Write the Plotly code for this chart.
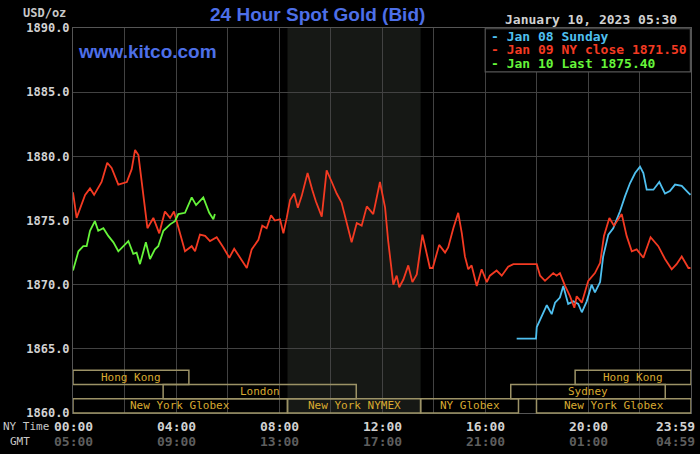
import plotly.graph_objects as go

# Jan 09 (full NY day), hours since NY midnight -> price
jan09_hours = [0.0, 0.14, 0.47, 0.66, 0.82, 1.11, 1.33, 1.50, 1.76, 2.09, 2.28, 2.41, 2.54, 2.73,
               2.89, 3.12, 3.35, 3.57, 3.77, 3.92, 4.09, 4.35, 4.61, 4.74, 4.93, 5.13, 5.32, 5.58,
               5.84, 6.07, 6.26, 6.49, 6.75, 6.94, 7.20, 7.35, 7.52, 7.69, 7.84, 8.04, 8.17, 8.30,
               8.43, 8.59, 8.73, 8.88, 9.11, 9.29, 9.43, 9.66, 9.85, 10.05, 10.24, 10.43, 10.63,
               10.82, 11.02, 11.21, 11.41, 11.66, 11.92, 12.12, 12.24, 12.44, 12.57, 12.67, 12.83,
               13.02, 13.18, 13.35, 13.57, 13.86, 13.97, 14.22, 14.45, 14.57, 14.77, 14.96, 15.10,
               15.22, 15.35, 15.48, 15.68, 15.87, 16.07, 16.19, 16.45, 16.65, 16.90, 17.10, 18.01,
               18.14, 18.33, 18.65, 18.78, 18.91, 19.11, 19.30, 19.47, 19.56, 19.76, 20.01, 20.27,
               20.47, 20.62, 20.83, 21.01, 21.31, 21.50, 21.70, 21.89, 22.15, 22.43, 22.73, 22.99,
               23.25, 23.44, 23.64, 23.90, 23.98]
jan09_price = [1877.2, 1875.2, 1877.0, 1877.5, 1877.0, 1878.0, 1879.5, 1879.1, 1877.8, 1878.0,
               1879.0, 1880.5, 1880.1, 1877.1, 1874.4, 1875.2, 1874.0, 1875.7, 1875.2, 1875.7,
               1874.4, 1872.6, 1873.0, 1872.6, 1873.9, 1873.8, 1873.4, 1873.7, 1872.9, 1872.1,
               1872.8, 1872.1, 1871.3, 1872.75, 1873.5, 1874.6, 1874.4, 1875.4, 1875.0, 1875.1,
               1874.0, 1875.2, 1876.6, 1877.1, 1876.0, 1876.9, 1878.7, 1877.4, 1876.5, 1875.3,
               1878.9, 1878.0, 1877.1, 1876.4, 1874.9, 1873.3, 1874.8, 1874.6, 1876.1, 1875.5,
               1878.0, 1876.0, 1873.4, 1870.0, 1870.7, 1869.8, 1870.4, 1871.5, 1870.2, 1870.8,
               1873.9, 1871.3, 1871.3, 1873.1, 1872.5, 1872.9, 1874.4, 1875.6, 1874.0, 1872.2,
               1871.2, 1871.5, 1869.9, 1871.2, 1870.2, 1870.7, 1871.1, 1870.7, 1871.4, 1871.6,
               1871.6, 1870.7, 1870.3, 1870.9, 1870.7, 1870.9, 1869.9, 1869.1, 1868.2, 1869.1,
               1868.6, 1870.3, 1870.9, 1871.7, 1873.8, 1875.2, 1874.6, 1875.5, 1873.8, 1872.6,
               1872.75, 1872.1, 1873.7, 1873.0, 1872.0, 1871.2, 1871.6, 1872.2, 1871.3, 1871.3]

# Jan 08 Sunday evening session
jan08_hours = [17.23, 17.98, 18.01, 18.26, 18.40, 18.59, 18.72, 18.91, 19.04, 19.23, 19.43, 19.62,
               19.76, 19.95, 20.14, 20.27, 20.47, 20.59, 20.79, 20.98, 21.24, 21.44, 21.63, 21.83,
               22.02, 22.15, 22.28, 22.54, 22.77, 22.99, 23.18, 23.38, 23.64, 23.90, 23.98]
jan08_price = [1865.8, 1865.8, 1866.7, 1867.85, 1868.4, 1867.7, 1868.6, 1869.0, 1869.9, 1868.5,
               1868.7, 1868.5, 1867.85, 1868.7, 1870.0, 1869.4, 1870.2, 1872.2, 1873.9, 1874.4,
               1875.7, 1876.9, 1877.9, 1878.7, 1879.2, 1878.7, 1877.4, 1877.4, 1878.0, 1877.1,
               1877.3, 1877.8, 1877.7, 1877.15, 1877.0]

# Jan 10 so far (until 05:30)
jan10_hours = [0.0, 0.08, 0.21, 0.40, 0.53, 0.66, 0.85, 0.98, 1.18, 1.37, 1.57, 1.76, 1.95, 2.15,
               2.34, 2.47, 2.60, 2.83, 2.99, 3.18, 3.31, 3.51, 3.77, 3.96, 4.09, 4.35, 4.61, 4.78,
               5.06, 5.29, 5.45, 5.51]
jan10_price = [1871.1, 1871.7, 1872.6, 1873.0, 1873.0, 1874.2, 1874.95, 1874.2, 1874.4, 1873.8,
               1873.3, 1872.6, 1873.0, 1873.4, 1872.4, 1872.5, 1871.6, 1873.3, 1872.0, 1872.75,
               1873.0, 1874.2, 1874.7, 1874.95, 1875.5, 1875.6, 1876.8, 1876.2, 1876.8, 1875.6,
               1875.1, 1875.5]

legend_labels = ["Jan 08 Sunday", "Jan 09 NY close 1871.50", "Jan 10 Last 1875.40"]

# trading sessions: name, row from bottom, start hour, end hour
session_names = ["Hong Kong", "London", "New York Globex", "New York NYMEX", "NY Globex",
                 "New York Globex", "Sydney", "Hong Kong"]
session_rows = [2, 1, 0, 0, 0, 0, 1, 2]
session_start = [0.0, 3.5, 0.0, 8.33, 13.5, 18.0, 17.0, 19.5]
session_end = [4.5, 11.0, 8.33, 13.5, 17.3, 24.0, 23.0, 24.0]
comex_start, comex_end = 8.33, 13.5

tick_hours = [0, 4, 8, 12, 16, 20, 24]
ny_ticks = ["00:00", "04:00", "08:00", "12:00", "16:00", "20:00", "23:59"]
gmt_ticks = ["05:00", "09:00", "13:00", "17:00", "21:00", "01:00", "04:59"]

BLUE = "#4fc0f0"
RED = "#f43a22"
GREEN = "#66f53a"
GOLD = "#d8aa30"
BOX = "#9c9266"
GRID = "#424242"
MONO = "DejaVu Sans Mono"

fig = go.Figure()
for hrs, px, col in [(jan08_hours, jan08_price, BLUE),
                     (jan09_hours, jan09_price, RED),
                     (jan10_hours, jan10_price, GREEN)]:
    fig.add_trace(go.Scatter(x=hrs, y=px, mode="lines", line=dict(color=col, width=1.8),
                             showlegend=False, hoverinfo="skip"))

shapes = [dict(type="rect", xref="x", yref="paper", x0=comex_start, x1=comex_end, y0=0, y1=1,
               fillcolor="#161815", line_width=0, layer="below")]
annotations = []

row_h = 0.037
for name, row, s, e in zip(session_names, session_rows, session_start, session_end):
    shapes.append(dict(type="rect", xref="x", yref="paper", x0=s, x1=e,
                       y0=row * row_h, y1=(row + 1) * row_h,
                       line=dict(color=BOX, width=1.5), fillcolor="rgba(0,0,0,0)"))
    annotations.append(dict(x=(s + e) / 2, y=(row + 0.5) * row_h, xref="x", yref="paper",
                            yanchor="middle", text=name, showarrow=False,
                            font=dict(family=MONO, size=11, color=GOLD)))

# legend box
shapes.append(dict(type="rect", xref="paper", yref="paper", x0=0.667, x1=0.999, y0=0.886, y1=0.998,
                   fillcolor="#000000", line=dict(color="#555555", width=1.2), layer="above"))
for i, (lab, col) in enumerate(zip(legend_labels, [BLUE, RED, GREEN])):
    annotations.append(dict(x=0.673, y=0.979 - i * 0.035, xref="paper", yref="paper",
                            xanchor="left", yanchor="middle", text="- " + lab, showarrow=False,
                            font=dict(family=MONO, size=13, color=col, weight="bold")))

# x labels (NY time + GMT)
for h, ny, gmt in zip(tick_hours, ny_ticks, gmt_ticks):
    anchor = "right" if h == 24 else "center"
    shift = 6 if h == 24 else 0
    annotations.append(dict(x=h, y=-0.035, xref="x", yref="paper", text=ny, showarrow=False,
                            xanchor=anchor, yanchor="middle", xshift=shift,
                            font=dict(family=MONO, size=13, color="#d2d2d2", weight="bold")))
    annotations.append(dict(x=h, y=-0.074, xref="x", yref="paper", text=gmt, showarrow=False,
                            xanchor=anchor, yanchor="middle", xshift=shift,
                            font=dict(family=MONO, size=13, color="#5e5e5e", weight="bold")))

annotations += [
    dict(x=-0.036, y=-0.035, xref="paper", yref="paper", xanchor="right", yanchor="middle",
         text="NY Time", showarrow=False, font=dict(family=MONO, size=11, color="#c8c8c8")),
    dict(x=-0.067, y=-0.074, xref="paper", yref="paper", xanchor="right", yanchor="middle",
         text="GMT", showarrow=False, font=dict(family=MONO, size=11, color="#c8c8c8")),
    dict(x=-0.008, y=1.039, xref="paper", yref="paper", xanchor="right", yanchor="middle",
         text="USD/oz", showarrow=False,
         font=dict(family=MONO, size=12, color="#c8c8c8", weight="bold")),
    dict(x=0.396, y=1.034, xref="paper", yref="paper", yanchor="middle",
         text="24 Hour Spot Gold (Bid)", showarrow=False,
         font=dict(family="Liberation Sans", size=19, color="#4d6fe8", weight="bold")),
    dict(x=0.005, y=0.938, xref="paper", yref="paper", xanchor="left", yanchor="middle",
         text="www.kitco.com", showarrow=False,
         font=dict(family="Liberation Sans", size=19, color="#4d6fe8", weight="bold")),
    dict(x=0.98, y=1.021, xref="paper", yref="paper", xanchor="right", yanchor="middle",
         text="January 10, 2023 05:30", showarrow=False,
         font=dict(family=MONO, size=13, color="#d2d2d2", weight="bold")),
]

fig.update_layout(
    width=700, height=454,
    margin=dict(l=73, r=9, t=28, b=41),
    paper_bgcolor="#000000", plot_bgcolor="#000000",
    shapes=shapes, annotations=annotations,
    xaxis=dict(range=[0, 24], tickvals=list(range(0, 25, 2)), showticklabels=False,
               showgrid=True, gridcolor=GRID, gridwidth=1.2, zeroline=False,
               showline=True, linecolor="#555555", mirror=True, ticks=""),
    yaxis=dict(range=[1860, 1890], dtick=5, tickformat=".1f", showgrid=True, gridcolor=GRID,
               gridwidth=1.2, zeroline=False, showline=True, linecolor="#555555", mirror=True,
               ticks="", tickfont=dict(family=MONO, size=12, color="#d2d2d2", weight="bold")),
)

# page body has a default 8px margin; drop it so the figure fills the window
fig.write_html("out.html", config={"displayModeBar": False},
               post_script="document.body.style.margin = '0';")
